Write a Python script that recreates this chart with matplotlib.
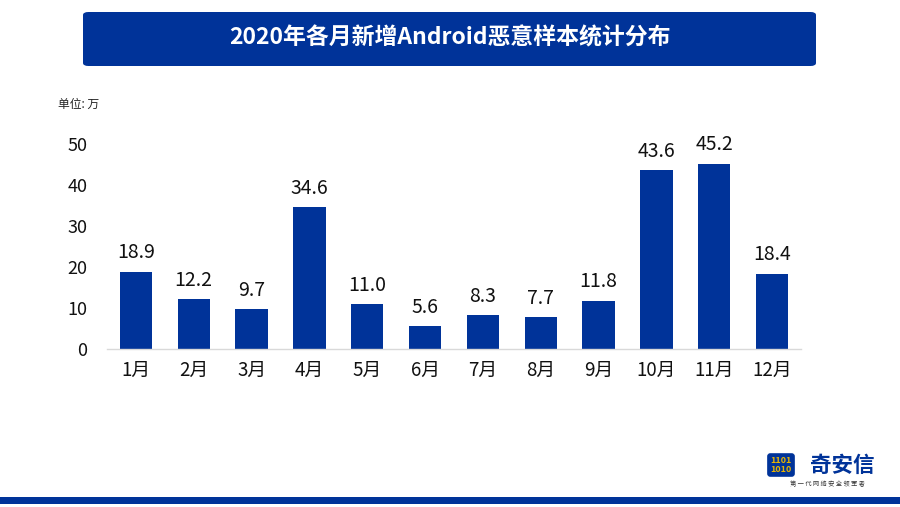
import matplotlib
matplotlib.use("Agg")
import matplotlib.pyplot as plt
from matplotlib.patches import FancyBboxPatch, Rectangle

plt.rcParams['font.family'] = ['Noto Sans CJK SC', 'DejaVu Sans']

months = ["1月", "2月", "3月", "4月", "5月", "6月", "7月", "8月", "9月", "10月", "11月", "12月"]
values = [18.9, 12.2, 9.7, 34.6, 11.0, 5.6, 8.3, 7.7, 11.8, 43.6, 45.2, 18.4]
yticks = [0, 10, 20, 30, 40, 50]
title = "2020年各月新增Android恶意样本统计分布"
unit = "单位: 万"

BLUE = "#003399"
W, H = 900, 507
fig = plt.figure(figsize=(9, 5.07), dpi=100)

# title banner
fig.patches.append(FancyBboxPatch((83 / W, 1 - 66 / H), (816 - 83) / W, (66 - 12) / H,
                                  boxstyle="round,pad=0,rounding_size=0.006",
                                  transform=fig.transFigure, facecolor=BLUE, edgecolor="none"))
fig.text((83 + 816) / 2 / W, 1 - 38 / H, title, color="white", fontsize=16.5, fontweight="bold",
         ha="center", va="center")

# bottom stripe
fig.patches.append(Rectangle((0, 1 - 504 / H), 1, 7 / H, transform=fig.transFigure,
                             facecolor=BLUE, edgecolor="none"))

# logo
fig.text(842 / W, 1 - 465 / H, "奇安信", color=BLUE, fontsize=15.5, fontweight="bold",
         ha="center", va="center")
fig.text(827 / W, 1 - 484 / H, "第 一 代 网 络 安 全 领 军 者", color="#333333", fontsize=4.5,
         ha="center", va="center")
fig.text(781 / W, 1 - 465 / H, "1101\n1010", color="#e8b400", fontsize=6.5, fontweight="bold",
         ha="center", va="center", linespacing=0.9,
         bbox=dict(boxstyle="round,pad=0.35", facecolor=BLUE, edgecolor="none"))

fig.text(58 / W, 1 - 104 / H, unit, fontsize=8.5, color="#222222", ha="left", va="center")

ax = fig.add_axes([107 / W, 1 - 349 / H, (801 - 107) / W, (349 - 144) / H])
x = range(len(months))
ax.bar(x, values, width=0.56, color=BLUE, zorder=2)
for xi, v in zip(x, values):
    ax.text(xi, v + 2.0, f"{v:.1f}", ha="center", va="bottom", fontsize=14, color="#111111")

ax.set_xlim(-0.5, len(months) - 0.5)
ax.set_ylim(0, 50)
ax.set_yticks(yticks)
ax.set_yticklabels([str(t) for t in yticks], fontsize=13, color="#111111")
ax.set_xticks(list(x))
ax.set_xticklabels(months, fontsize=13.5, color="#111111")
ax.tick_params(length=0)
ax.tick_params(axis="y", pad=14)
ax.tick_params(axis="x", pad=8)
for s in ["top", "right", "left"]:
    ax.spines[s].set_visible(False)
ax.spines["bottom"].set_color("#d9d9d9")
ax.spines["bottom"].set_linewidth(1)

fig.savefig("out.png", dpi=100)
